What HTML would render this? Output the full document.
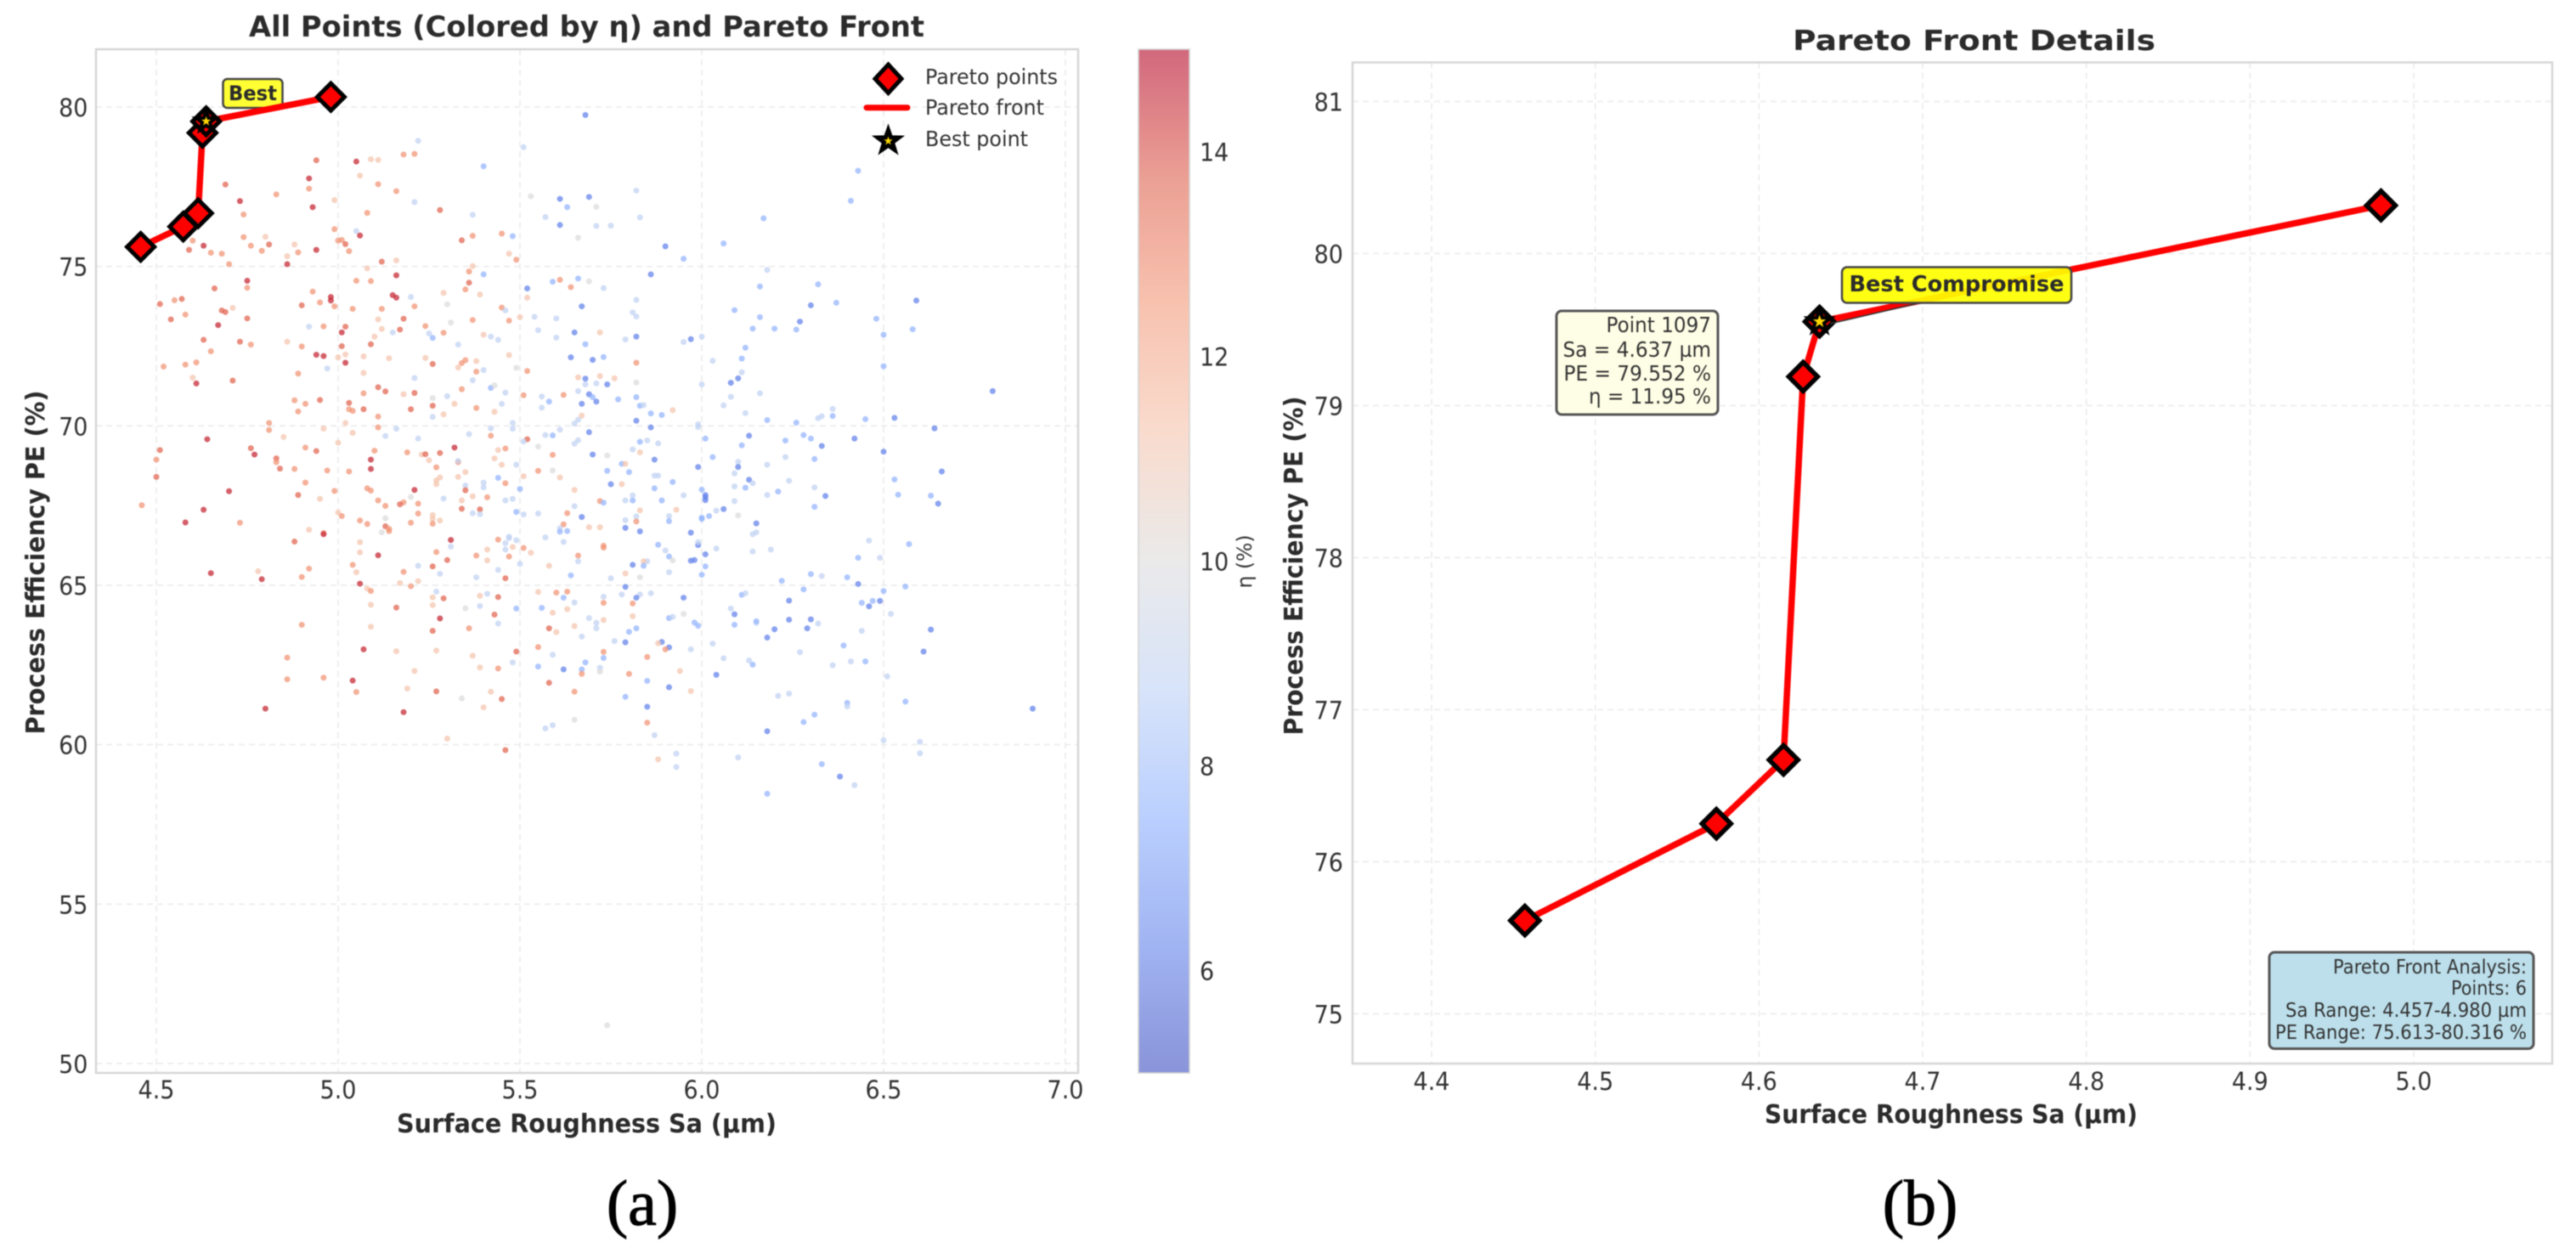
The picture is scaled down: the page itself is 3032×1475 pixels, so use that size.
<!DOCTYPE html>
<html lang="en">
<head>
<meta charset="utf-8">
<title>Pareto front analysis</title>
<style>
html,body{margin:0;padding:0;background:#fff;width:3032px;height:1475px;overflow:hidden}
svg{display:block;filter:blur(0.6px)}
text{font-family:"DejaVu Sans","Liberation Sans",sans-serif;fill:#333}
.bold{font-weight:bold;fill:#2b2b2b}
.cap{font-family:"Liberation Serif","DejaVu Serif",serif;fill:#000;stroke:#000;stroke-width:1}
</style>
</head>
<body>
<svg id="figure" xmlns="http://www.w3.org/2000/svg" width="3032" height="1475" viewBox="0 0 3032 1475">
  <defs><linearGradient id="cbGrad" x1="0" y1="1" x2="0" y2="0"></linearGradient></defs>
  <rect width="3032" height="1475" fill="#fff"/>
  <g id="layerGridA"></g>
  <g id="layerGridB"></g>
  <g id="layerPoints"></g>
  <rect x="262.5" y="93" width="70" height="34" rx="5" fill="#ffff33" stroke="#444" stroke-width="2.5"/>
  <text x="297.5" y="118" text-anchor="middle" font-size="24" class="bold" textLength="57" lengthAdjust="spacingAndGlyphs">Best</text>
  <g id="layerFrontA"></g>
  <g id="layerFrontB"></g>
  <rect x="113" y="58" width="1156" height="1205" fill="none" stroke="#d6d6d6" stroke-width="2.5"/>
  <rect x="1592" y="73.5" width="1412" height="1178.5" fill="none" stroke="#d6d6d6" stroke-width="2.5"/>
  <g id="layerTicks"></g>

  <text x="690.5" y="43" text-anchor="middle" font-size="34" class="bold" textLength="795" lengthAdjust="spacingAndGlyphs">All Points (Colored by η) and Pareto Front</text>
  <text x="690.5" y="1333" text-anchor="middle" font-size="30" class="bold" textLength="447" lengthAdjust="spacingAndGlyphs">Surface Roughness Sa (µm)</text>
  <text transform="translate(52,662) rotate(-90)" text-anchor="middle" font-size="30" class="bold" textLength="405" lengthAdjust="spacingAndGlyphs">Process Efficiency PE (%)</text>

  <g>
    <polygon points="1045.5,76 1061,92.7 1045.5,109.4 1030,92.7" fill="#f00" stroke="#000" stroke-width="5"/>
    <text x="1089" y="99" font-size="25" textLength="156" lengthAdjust="spacingAndGlyphs">Pareto points</text>
    <line x1="1020" y1="126.7" x2="1068" y2="126.7" stroke="#f00" stroke-width="7" stroke-linecap="round"/>
    <text x="1089" y="135" font-size="25" textLength="140" lengthAdjust="spacingAndGlyphs">Pareto front</text>
    <g id="legendStar"></g>
    <text x="1089" y="172" font-size="25" textLength="121" lengthAdjust="spacingAndGlyphs">Best point</text>
  </g>

  <rect x="1340" y="58" width="60" height="1205" fill="url(#cbGrad)" fill-opacity="0.6" stroke="#d2d2d2" stroke-width="1.5"/>
  <text transform="translate(1473,661) rotate(-90)" text-anchor="middle" font-size="24" textLength="63" lengthAdjust="spacingAndGlyphs">η (%)</text>

  <text x="2323.5" y="59" text-anchor="middle" font-size="33" class="bold" textLength="427" lengthAdjust="spacingAndGlyphs">Pareto Front Details</text>
  <text x="2296.5" y="1322" text-anchor="middle" font-size="30" class="bold" textLength="439" lengthAdjust="spacingAndGlyphs">Surface Roughness Sa (µm)</text>
  <text transform="translate(1533,666) rotate(-90)" text-anchor="middle" font-size="30" class="bold" textLength="399" lengthAdjust="spacingAndGlyphs">Process Efficiency PE (%)</text>

  <line x1="2262" y1="356" x2="2154" y2="381" stroke="#333" stroke-width="1.5"/>
  <rect x="2168" y="314.5" width="270" height="42" rx="6" fill="#ffff00" fill-opacity="0.92" stroke="#444" stroke-width="2.5"/>
  <text x="2303" y="343" text-anchor="middle" font-size="26" class="bold" textLength="253" lengthAdjust="spacingAndGlyphs">Best Compromise</text>

  <g>
    <rect x="1832" y="366" width="190" height="122" rx="6" fill="#fefee6" stroke="#555" stroke-width="3"/>
    <text x="2014" y="391" text-anchor="end" font-size="24.5" textLength="123.5" lengthAdjust="spacingAndGlyphs">Point 1097</text>
    <text x="2014" y="420" text-anchor="end" font-size="24.5" textLength="174.5" lengthAdjust="spacingAndGlyphs">Sa = 4.637 µm</text>
    <text x="2014" y="448" text-anchor="end" font-size="24.5" textLength="173.5" lengthAdjust="spacingAndGlyphs">PE = 79.552 %</text>
    <text x="2014" y="475" text-anchor="end" font-size="24.5" textLength="144" lengthAdjust="spacingAndGlyphs">η = 11.95 %</text>
  </g>

  <g>
    <rect x="2671" y="1121" width="311" height="113.5" rx="6" fill="#bcdfeb" stroke="#555" stroke-width="3"/>
    <text x="2974" y="1146" text-anchor="end" font-size="23.5" textLength="228" lengthAdjust="spacingAndGlyphs">Pareto Front Analysis:</text>
    <text x="2974" y="1171" text-anchor="end" font-size="23.5" textLength="89" lengthAdjust="spacingAndGlyphs">Points: 6</text>
    <text x="2974" y="1197" text-anchor="end" font-size="23.5" textLength="284" lengthAdjust="spacingAndGlyphs">Sa Range: 4.457-4.980 µm</text>
    <text x="2974" y="1223" text-anchor="end" font-size="23.5" textLength="296" lengthAdjust="spacingAndGlyphs">PE Range: 75.613-80.316 %</text>
  </g>

  <text x="756" y="1442" text-anchor="middle" font-size="76" class="cap">(a)</text>
  <text x="2260" y="1442" text-anchor="middle" font-size="76" class="cap">(b)</text>
</svg>
<script>
/* Pareto front */
const paretoSa=[4.457,4.574,4.615,4.627,4.637,4.980];
const paretoPe=[75.613,76.25,76.67,79.19,79.552,80.316];
const bestSa=[4.637];
const bestPe=[79.552];

/* Tick labels */
const scatterXTicks=["4.5","5.0","5.5","6.0","6.5","7.0"];
const scatterYTicks=["50","55","60","65","70","75","80"];
const colorbarTicks=["6","8","10","12","14"];
const detailXTicks=["4.4","4.5","4.6","4.7","4.8","4.9","5.0"];
const detailYTicks=["75","76","77","78","79","80","81"];

/* All points, upper-left region */
const saUpperLeft=[
5.68,5.22,5.51,5.40,4.94,5.05,5.09,5.11,5.18,5.21,
4.92,4.92,5.06,5.11,5.16,4.69,4.83,4.73,4.74,4.93,
4.99,5.08,5.28,5.21,5.37,5.53,5.61,5.69,5.63,5.82,
5.71,5.83,5.57,5.61,5.71,5.75,5.90,5.66,4.99,5.05,
5.06,5.34,5.37,5.45,5.48,4.74,4.80,4.60,4.63,4.59,
4.65,4.68,4.76,4.81,4.79,4.70,4.88,4.89,4.94,5.00,
5.01,5.02,5.03,4.86,4.86,5.12,5.16,5.08,5.47,5.49,
5.37,5.36,5.40,5.36,5.35,5.16,4.75,4.75,4.66,5.05,
5.09,5.29,5.39,5.52,5.59,5.61,5.66,5.69,5.64,5.73,
5.86,5.52,5.20,5.82,5.67,4.93,5.15,5.16,4.98,4.98,
4.95,4.90,4.99,5.04,5.12,5.21,5.30,5.45,5.46,4.51,
4.55,4.57,4.58,4.54,4.68,4.69,4.71,4.75,5.81,5.82,
5.60,5.54,5.50,5.47,5.37,5.18,5.11,5.31,5.24,4.67,
4.96,5.02,4.92,5.01,5.12,5.17,5.15,5.29,5.25,5.26,
5.40,5.42,5.44,5.55,5.60,5.65,5.72,5.79,5.82,5.10,
4.63,4.73,4.86,4.76,4.90,5.01,5.09,5.33,5.68,4.65,
4.94,4.96,5.02,5.00,5.07,5.24,5.47,5.14,5.64,5.70,
5.73,5.02,5.26,5.35,5.34,5.38,5.33,5.82,4.61,4.58,
4.52,4.97,5.49,5.38,5.40,5.52,4.89,5.07,4.60,4.61,
4.71,5.21,5.37,5.66,5.72,5.76,5.68,5.68,5.71,5.74,
5.82,5.11,5.13,5.42,5.43,5.34,5.46,5.07,5.18,5.21,
5.30,5.26,5.51,5.56,5.62,5.66,5.69,5.70,5.82,5.58,
5.71,5.77,4.88,4.91,4.95,5.03,5.32,5.26,5.45,5.67,
5.83,5.84,5.56,5.38,5.03,5.04,5.07,5.20,4.89,5.43,
5.92,5.86,5.89,5.11,5.29,5.26,5.67,5.66,5.82,4.81,
5.02,5.65,5.48];
const peUpperLeft=[
79.75,78.94,78.74,78.14,78.33,78.29,78.36,78.34,78.51,78.53,
77.76,77.44,77.85,77.58,77.36,77.57,77.26,77.05,76.63,76.86,
77.08,76.68,76.77,77.02,76.62,77.20,77.12,77.18,76.86,77.38,
76.87,76.54,76.55,76.30,76.27,76.28,75.63,75.90,76.17,76.11,
75.97,75.82,75.96,76.03,75.95,75.92,75.93,75.81,75.65,75.52,
75.43,75.40,75.65,75.69,75.49,75.07,75.69,75.44,75.52,75.81,
75.83,75.70,75.48,75.32,75.07,75.15,75.19,74.94,75.40,75.21,
75.01,74.84,74.75,74.49,74.28,74.72,74.55,74.33,74.31,74.55,
74.54,74.17,74.12,74.31,74.52,74.58,74.62,74.53,74.35,74.32,
74.75,74.02,74.04,73.95,73.75,74.21,74.10,74.02,74.04,73.93,
73.87,73.78,73.75,73.67,73.67,73.75,73.81,73.71,73.62,73.82,
73.94,73.98,73.49,73.34,73.62,73.57,73.70,73.37,73.56,73.43,
73.37,73.42,73.41,73.30,73.32,73.36,73.34,73.24,73.13,73.16,
73.12,73.11,73.11,72.93,73.04,73.02,72.93,72.92,72.90,72.76,
72.86,72.80,72.70,73.00,72.77,72.93,72.93,72.71,72.80,72.80,
72.70,72.64,72.64,72.55,72.49,72.50,72.56,72.55,72.56,72.34,
72.23,72.19,72.24,72.15,72.18,72.13,72.22,72.12,72.15,72.07,
72.16,71.98,71.94,72.06,71.97,72.03,71.83,71.98,71.99,71.92,
71.86,71.80,71.82,71.70,71.75,71.72,71.64,71.66,71.51,71.33,
71.42,71.50,71.43,71.52,71.56,71.49,71.48,71.30,71.33,71.30,
71.36,71.21,71.08,71.19,71.27,71.15,71.04,71.02,70.99,71.03,
70.93,70.87,70.96,70.92,70.97,71.09,70.99,70.90,70.90,70.76,
70.76,70.83,70.80,70.69,70.81,70.72,70.69,70.63,70.69,70.69,
70.63,70.65,70.57,70.56,70.52,70.47,70.52,70.52,70.45,70.44,
70.49,70.39,70.34,70.29,70.36,70.28,70.32,70.19,70.16,70.09,
70.09,70.07,70.09];
const etaUpperLeft=[
6.3,8.9,8.9,7.7,13.6,14.5,11.2,11.2,12.6,12.6,
14.5,12.6,11.2,12.6,12.6,13.6,12.6,14.5,12.6,14.5,
11.2,12.6,13.6,8.9,8.9,10,6.3,6.3,7.7,8.9,
10,8.9,8.9,6.3,8.9,8.9,6.3,10,12.6,8.9,
14.5,13.6,12.6,12.6,7.7,12.6,11.2,12.6,14.5,13.6,
12.6,12.6,12.6,13.6,12.6,12.6,11.2,12.6,14.5,12.6,
12.6,13.6,12.6,11.2,14.5,13.6,11.2,11.2,11.2,12.6,
11.2,12.6,7.7,13.6,12.6,14.5,14.5,12.6,13.6,12.6,
12.6,11.2,11.2,6.3,7.7,12.6,7.7,10,12.6,8.9,
6.3,11.2,8.9,8.9,6.3,12.6,14.5,14.5,14.5,14.5,
12.6,13.6,12.6,12.6,12.6,12.6,10,12.6,8.9,13.6,
12.6,13.6,12.6,13.6,13.6,13.6,11.2,13.6,8.9,8.9,
8.9,8.9,11.2,12.6,12.6,13.6,11.2,10,12.6,14.5,
12.6,13.6,8.9,14.5,11.2,13.6,8.9,12.6,8.9,7.7,
11.2,8.9,8.9,8.9,8.9,6.3,11.2,8.9,6.3,11.2,
13.6,13.6,11.2,12.6,12.6,13.6,13.6,8.9,7.7,12.6,
14.5,14.5,11.2,11.2,11.2,11.2,11.2,11.2,6.3,6.3,
7.7,14.5,13.6,12.6,12.6,11.2,11.2,12.6,12.6,12.6,
12.6,8.9,10,12.6,8.9,12.6,12.6,11.2,11.2,14.5,
13.6,8.9,8.9,11.2,11.2,11.2,6.3,8.9,8.9,6.3,
10,13.6,13.6,7.7,10,12.6,8.9,12.6,11.2,13.6,
8.9,10,12.6,8.9,12.6,8.9,6.3,7.7,7.7,7.7,
6.3,7.7,12.6,12.6,13.6,13.6,11.2,13.6,8.9,6.3,
7.7,8.9,8.9,12.6,12.6,12.6,13.6,13.6,12.6,11.2,
11.2,7.7,7.7,12.6,11.2,8.9,11.2,8.9,6.3,12.6,
11.2,8.9,8.9];

/* All points, upper-right region */
const saUpperRight=[
6.43,6.41,6.17,6.06,5.95,6.18,6.16,6.32,6.30,6.37,
6.59,6.09,6.16,6.27,6.14,6.20,6.26,6.48,6.50,6.58,
5.97,5.95,6.00,6.12,6.03,6.11,6.50,6.11,6.10,6.08,
6.00,6.80,6.16,6.08,6.06,6.12,6.18,6.26,6.32,6.33,
6.36,6.36,6.45,6.53,5.99];
const peUpperRight=[
78.00,77.06,76.51,75.72,75.24,74.89,74.37,74.44,73.78,73.86,
73.93,73.63,73.41,73.27,73.05,73.05,73.02,73.36,72.86,73.03,
72.72,72.63,72.80,72.45,72.04,72.11,71.87,71.68,71.49,71.35,
71.30,71.09,71.02,70.91,70.64,70.40,70.18,70.10,70.24,70.30,
70.31,70.53,70.21,70.25,70.05];
const etaUpperRight=[
7.7,7.7,7.7,7.7,7.7,8.9,7.7,7.7,6.3,7.7,
6.3,7.7,7.7,6.3,7.7,7.7,7.7,7.7,7.7,7.7,
6.3,8.9,8.9,7.7,8.9,7.7,7.7,8.9,6.3,6.3,
8.9,6.3,8.9,8.9,8.9,8.9,7.7,7.7,8.9,8.9,
7.7,8.9,7.7,6.3,8.9];

/* All points, lower-left region */
const saLowerLeft=[
4.81,4.85,4.96,5.04,5.11,5.16,5.13,5.22,5.42,5.36,
5.48,5.42,5.52,5.51,5.57,5.59,5.61,5.69,5.66,5.65,
5.86,5.83,5.85,5.88,4.64,5.00,4.51,4.50,4.50,4.76,
4.77,4.83,4.83,4.84,4.88,4.91,4.94,4.97,5.03,5.09,
5.09,5.10,5.19,5.23,5.24,5.28,5.32,5.25,5.27,5.33,
5.33,5.44,5.46,5.43,5.45,5.49,5.55,5.59,5.70,5.74,
5.83,5.81,5.78,5.79,5.87,5.74,5.80,5.55,5.59,5.61,
5.35,5.33,5.44,5.51,5.28,5.27,5.27,5.46,5.40,5.40,
5.35,5.50,5.75,5.78,5.87,5.88,5.92,5.87,4.91,5.08,
5.09,5.21,5.35,5.65,4.70,4.99,4.89,4.95,5.20,5.37,
5.41,5.29,5.34,5.46,5.48,5.79,5.81,5.81,5.89,5.72,
5.73,5.11,5.18,5.17,5.13,5.22,4.46,4.63,5.34,5.39,
5.65,5.83,5.93,5.00,5.01,5.22,5.37,5.39,5.49,5.51,
5.55,5.63,5.26,5.91,5.67,5.26,5.28,5.06,5.08,5.20,
5.26,5.79,5.82,5.82,5.91,4.58,4.73,5.13,5.62,5.61,
5.69,5.72,5.79,5.83,5.61,5.63,5.13,5.14,5.14,5.12,
4.92,4.96,4.96,5.57,5.47,5.47,5.49,5.62,5.44,4.88,
5.31,5.06,5.46,5.88,5.73,5.73,5.48,5.51,5.41,5.90,
5.46,5.31,5.06,5.27,5.53,5.11,5.38,5.47,5.66,5.91,
5.30,5.41,5.66,5.85,5.84,5.92,5.81,5.84,5.04,5.26,
5.22,5.58,5.50,4.92,5.44,4.78,4.65,5.05,5.18,5.28,
5.79,5.91,5.64,4.90,5.38,5.46,5.75,5.83,4.79,5.22,
5.17,5.06,5.20,5.08,5.09,5.27,5.41,5.39,5.55,5.60,
5.63,5.78,5.83,5.86,5.26,5.29,5.44,5.62,5.73,5.82,
5.65,5.73,5.81,5.79,5.09,5.26,5.39,5.16,5.35,5.49,
5.56,5.63,5.59,5.43,5.81,5.69,5.91,5.92,5.28,5.73,
5.71,5.44,4.90,5.09,5.36,5.26,5.58,5.65,5.71,5.82,
5.60,5.80,5.67,5.76,5.79,5.89,5.88,5.91,5.90,5.55,
5.07,5.16,5.27,5.49,5.73,5.59,5.37,4.86,5.73,5.85,
5.48,5.68,5.55,5.62,5.67,5.67,5.72,5.72,5.39,5.44,
5.21,5.80,5.94,4.86,4.96,5.04,5.58,5.85,5.91,5.05,
5.19,5.27,5.42,5.65,5.79,5.45,5.34,5.40,5.85,4.80,
5.18,5.65,5.85,5.59,5.57,5.87,5.30,5.46,5.93,5.88,
5.93,5.74];
const peLowerLeft=[
69.87,69.65,69.91,69.78,69.95,69.91,69.68,69.60,69.69,69.74,
69.91,69.92,69.58,69.51,69.71,69.70,69.88,69.80,69.55,69.44,
69.95,69.50,69.54,69.45,69.58,69.47,69.24,68.94,68.40,69.30,
69.10,68.98,68.86,68.66,68.65,69.32,69.21,68.60,68.57,68.94,
68.65,69.22,69.17,69.10,69.11,69.15,69.32,68.92,68.70,68.86,
68.90,69.24,69.29,68.98,68.78,68.78,69.35,69.09,69.10,69.07,
69.17,69.26,68.81,68.81,68.94,68.59,68.55,68.59,68.60,68.38,
68.55,68.40,68.37,68.42,68.38,68.29,68.17,68.20,68.22,68.07,
68.13,68.02,68.17,68.17,68.44,68.44,68.24,68.04,68.22,68.04,
67.97,67.99,67.98,67.99,67.95,67.96,67.83,67.71,67.77,67.79,
67.76,67.72,67.66,67.66,67.71,67.66,67.66,67.82,67.66,67.64,
67.59,67.66,67.60,67.54,67.49,67.56,67.51,67.37,67.40,67.38,
67.48,67.35,67.37,67.28,67.17,67.25,67.26,67.23,67.30,67.22,
67.25,67.26,67.20,67.17,67.14,67.08,67.03,67.03,66.92,66.96,
66.93,67.04,67.16,67.00,67.01,66.97,66.96,67.10,66.91,66.79,
66.82,66.82,66.80,66.69,66.68,66.70,66.85,66.77,66.70,66.66,
66.74,66.64,66.60,66.50,66.52,66.48,66.41,66.36,66.43,66.37,
66.42,66.35,66.32,66.27,66.24,66.18,66.20,66.17,66.12,66.09,
66.12,66.21,66.03,66.04,66.02,65.94,65.93,65.90,65.93,65.90,
65.79,65.78,65.75,65.75,65.75,65.78,65.64,65.61,65.64,65.59,
65.61,65.61,65.67,65.52,65.48,65.44,65.38,65.41,65.42,65.36,
65.37,65.41,65.31,65.26,65.25,65.22,65.22,65.25,65.19,65.13,
65.07,65.05,64.97,64.90,64.82,64.80,64.73,64.67,64.79,64.77,
64.80,64.71,64.71,64.75,64.62,64.59,64.63,64.61,64.64,64.61,
64.46,64.45,64.43,64.95,64.39,64.38,64.35,64.30,64.28,64.27,
64.29,64.25,64.14,64.08,64.03,63.97,63.97,64.01,63.96,63.91,
63.82,63.80,63.76,63.70,63.65,63.57,63.65,63.72,63.65,63.65,
63.53,63.54,63.39,63.25,63.21,63.22,63.18,63.05,62.99,63.06,
62.99,62.93,62.95,62.92,62.91,62.82,62.79,62.73,62.72,62.75,
62.58,62.58,62.45,62.36,62.36,62.22,62.41,62.29,62.42,62.39,
62.31,62.22,62.31,62.05,62.10,62.01,61.94,62.00,61.80,61.65,
61.76,61.67,61.66,61.66,61.50,61.43,61.45,61.17,61.19,61.13,
61.02,60.78,60.69,60.61,60.51,60.30,60.19,59.83,59.72,59.54,
59.30,51.20];
const etaLowerLeft=[
12.6,11.2,11.2,11.2,12.6,8.9,8.9,8.9,12.6,8.9,
8.9,8.9,13.6,8.9,8.9,7.7,8.9,6.3,8.9,8.9,
6.3,7.7,8.9,8.9,14.5,11.2,13.6,12.6,13.6,13.6,
14.5,13.6,12.6,13.6,12.6,12.6,13.6,12.6,12.6,14.5,
14.5,12.6,12.6,11.2,13.6,13.6,14.5,11.2,12.6,12.6,
8.9,11.2,12.6,11.2,11.2,8.9,10,12.6,6.3,10,
11.2,8.9,7.7,11.2,6.3,7.7,7.7,12.6,10,11.2,
11.2,11.2,7.7,11.2,11.2,11.2,11.2,12.6,8.9,8.9,
8.9,7.7,6.3,11.2,8.9,8.9,7.7,7.7,12.6,12.6,
12.6,14.5,13.6,11.2,14.5,12.6,13.6,11.2,10,11.2,
12.6,8.9,11.2,8.9,8.9,8.9,7.7,8.9,7.7,12.6,
7.7,12.6,12.6,13.6,12.6,12.6,12.6,14.5,13.6,13.6,
8.9,11.2,11.2,11.2,12.6,12.6,8.9,8.9,7.7,8.9,
8.9,12.6,11.2,8.9,6.3,11.2,11.2,12.6,12.6,12.6,
12.6,8.9,8.9,12.6,7.7,14.5,12.6,10,12.6,8.9,
11.2,11.2,6.3,6.3,7.7,7.7,13.6,12.6,12.6,10,
11.2,12.6,14.5,8.9,8.9,8.9,8.9,8.9,12.6,13.6,
14.5,11.2,8.9,7.7,12.6,12.6,11.2,12.6,11.2,8.9,
8.9,8.9,11.2,12.6,11.2,14.5,12.6,12.6,12.6,7.7,
13.6,11.2,8.9,8.9,11.2,10,6.3,7.7,12.6,13.6,
8.9,11.2,8.9,12.6,8.9,11.2,14.5,11.2,12.6,8.9,
11.2,8.9,7.7,12.6,8.9,13.6,8.9,10,14.5,11.2,
11.2,14.5,12.6,11.2,12.6,8.9,8.9,11.2,11.2,12.6,
12.6,8.9,8.9,8.9,11.2,13.6,13.6,7.7,8.9,6.3,
8.9,12.6,12.6,6.3,11.2,11.2,8.9,13.6,10,7.7,
7.7,11.2,11.2,13.6,11.2,8.9,7.7,8.9,14.5,11.2,
8.9,8.9,12.6,11.2,12.6,13.6,13.6,11.2,8.9,7.7,
11.2,7.7,8.9,8.9,6.3,6.3,11.2,6.3,12.6,12.6,
14.5,11.2,11.2,13.6,12.6,8.9,11.2,12.6,7.7,12.6,
8.9,7.7,7.7,6.3,7.7,12.6,8.9,10,11.2,12.6,
11.2,12.6,11.2,12.6,12.6,14.5,13.6,7.7,6.3,12.6,
11.2,13.6,11.2,12.6,7.7,13.6,10,11.2,6.3,14.5,
14.5,10,12.6,8.9,8.9,8.9,11.2,13.6,8.9,11.2,
8.9,10];

/* All points, lower-right region */
const saLowerRight=[
5.99,6.64,6.13,6.01,6.11,6.23,6.28,6.30,6.33,6.42,
6.50,6.03,6.23,6.31,6.18,6.10,5.99,6.10,6.09,6.66,
6.53,6.13,6.14,6.24,6.09,6.12,6.31,6.00,5.95,6.01,
6.01,6.01,6.18,6.21,6.34,6.54,6.63,6.65,6.09,6.31,
6.06,6.04,6.10,6.02,6.00,6.00,6.15,6.14,6.15,5.97,
6.46,6.57,5.99,5.99,6.04,6.19,6.14,6.01,6.43,6.49,
5.98,5.97,6.01,6.00,6.30,6.33,6.40,6.22,6.43,6.56,
6.28,6.50,5.95,6.11,6.12,6.24,6.44,6.47,6.46,6.49,
6.52,6.08,6.09,5.95,5.98,5.99,6.09,6.15,6.15,6.24,
6.30,6.32,6.29,6.20,6.18,6.63,6.44,6.03,6.39,6.61,
5.97,6.27,6.06,6.13,6.14,6.41,6.45,6.36,6.04,6.51,
5.97,6.21,6.24,6.40,6.40,6.56,6.91,6.31,6.28,6.18,
6.50,6.60,6.60,6.10,6.33,6.38,6.42,6.18];
const peLowerRight=[
69.96,69.92,69.69,69.60,69.39,69.54,69.71,69.60,69.37,69.60,
69.19,69.02,69.02,68.96,68.78,68.87,68.71,68.71,68.51,68.57,
68.32,68.31,68.20,68.28,68.10,68.06,68.07,68.00,67.82,67.83,
67.76,67.67,67.83,67.94,67.80,67.84,67.81,67.56,67.64,67.46,
67.39,67.34,67.19,67.17,67.12,67.08,66.94,66.60,66.66,66.65,
66.40,66.29,66.26,66.35,66.15,66.12,66.06,65.97,65.86,65.86,
65.79,65.77,65.59,65.33,65.35,65.29,65.25,65.14,65.04,64.96,
64.87,64.82,64.61,64.70,64.75,64.52,64.45,64.51,64.34,64.51,
64.10,64.27,64.09,64.10,63.83,63.73,63.76,63.82,63.87,63.92,
63.93,63.80,63.65,63.62,63.36,63.61,63.57,63.17,63.11,62.92,
62.99,62.90,62.71,62.64,62.51,62.61,62.61,62.49,62.19,62.14,
61.68,61.53,61.60,61.31,61.20,61.35,61.13,60.94,60.71,60.42,
60.14,60.09,59.73,59.60,59.39,59.00,58.73,58.46];
const etaLowerRight=[
8.9,6.3,6.3,7.7,7.7,7.7,7.7,7.7,6.3,6.3,
6.3,7.7,8.9,7.7,8.9,8.9,6.3,6.3,8.9,6.3,
7.7,6.3,8.9,8.9,8.9,7.7,8.9,7.7,8.9,6.3,
6.3,6.3,8.9,7.7,6.3,7.7,7.7,6.3,8.9,7.7,
6.3,8.9,10,7.7,7.7,7.7,6.3,8.9,8.9,6.3,
8.9,7.7,6.3,8.9,8.9,8.9,8.9,6.3,7.7,8.9,
6.3,6.3,7.7,7.7,7.7,8.9,7.7,7.7,6.3,7.7,
7.7,7.7,6.3,7.7,8.9,6.3,7.7,7.7,6.3,6.3,
8.9,8.9,6.3,10,7.7,7.7,7.7,8.9,7.7,6.3,
6.3,8.9,6.3,6.3,6.3,6.3,8.9,8.9,7.7,6.3,
8.9,8.9,8.9,8.9,7.7,8.9,7.7,8.9,6.3,8.9,
11.2,8.9,8.9,7.7,8.9,7.7,6.3,7.7,7.7,6.3,
8.9,8.9,8.9,8.9,7.7,6.3,8.9,7.7];

/* Coolwarm colormap anchors */
const coolwarmStops=[[59,76,192],[98,130,234],[141,176,254],[190,210,246],[221,220,220],[245,196,173],[244,154,123],[222,96,77],[180,4,38]];

const SVGNS="http://www.w3.org/2000/svg";
const etaMin=5, etaMax=15;
function scatterX(v){return 184+(v-4.5)*428;}
function scatterY(v){return 126+(80-v)*37.53;}
function detailX(v){return 1685+(v-4.4)*1926.7;}
function detailY(v){return 119.4+(81-v)*179;}
function colorbarY(v){return 1263-(v-etaMin)*120.5;}

function colormap(t){
  const c=Math.max(0,Math.min(1,t))*(coolwarmStops.length-1);
  const i=Math.min(coolwarmStops.length-2,Math.floor(c));
  const f=c-i, a=coolwarmStops[i], b=coolwarmStops[i+1];
  return "rgb("+Math.round(a[0]+(b[0]-a[0])*f)+","+Math.round(a[1]+(b[1]-a[1])*f)+","+Math.round(a[2]+(b[2]-a[2])*f)+")";
}
function make(tag,attrs,parent){
  const el=document.createElementNS(SVGNS,tag);
  for(const k in attrs){el.setAttribute(k,attrs[k]);}
  parent.appendChild(el);
  return el;
}
function layer(id){return document.getElementById(id);}

/* Colorbar gradient */
const cbGrad=document.getElementById("cbGrad");
coolwarmStops.forEach(function(stop,i){
  make("stop",{offset:(i/(coolwarmStops.length-1)),"stop-color":"rgb("+stop.join(",")+")"},cbGrad);
});

/* Grid lines */
function vGrid(group,xf,ticks,y0,y1){
  ticks.forEach(function(t){
    const x=xf(parseFloat(t));
    const el=make("line",{x1:x,x2:x,y1:y0,y2:y1,stroke:"#ebebeb","stroke-width":1.6,"stroke-dasharray":"7 5"},group);
    
    
  });
}
function hGrid(group,yf,ticks,x0,x1){
  ticks.forEach(function(t){
    const y=yf(parseFloat(t));
    const el=make("line",{x1:x0,x2:x1,y1:y,y2:y,stroke:"#ebebeb","stroke-width":1.6,"stroke-dasharray":"7 5"},group);
    
    
  });
}
vGrid(layer("layerGridA"),scatterX,scatterXTicks,58,1263);
hGrid(layer("layerGridA"),scatterY,scatterYTicks,113,1269);
vGrid(layer("layerGridB"),detailX,detailXTicks,73.5,1252);
hGrid(layer("layerGridB"),detailY,detailYTicks,1592,3004);

/* Scatter points */
const pointGroups=[
  [saUpperLeft,peUpperLeft,etaUpperLeft],
  [saUpperRight,peUpperRight,etaUpperRight],
  [saLowerLeft,peLowerLeft,etaLowerLeft],
  [saLowerRight,peLowerRight,etaLowerRight]
];
pointGroups.forEach(function(g){
  const n=Math.min(g[0].length,g[1].length,g[2].length);
  for(let i=0;i<n;i++){
    const dot=make("circle",{cx:scatterX(g[0][i]),cy:scatterY(g[1][i]),r:3.5,fill:colormap((g[2][i]-etaMin)/(etaMax-etaMin)),"fill-opacity":0.75},layer("layerPoints"));
    
    
  }
});

/* Pareto front */
function diamondPoints(cx,cy,h){
  return [cx+","+(cy-h),(cx+h)+","+cy,cx+","+(cy+h),(cx-h)+","+cy].join(" ");
}
function starPoints(cx,cy,r){
  const pts=[];
  for(let i=0;i<10;i++){
    const rad=i%2===0?r:r*0.4;
    const a=-Math.PI/2+i*Math.PI/5;
    pts.push((cx+rad*Math.cos(a))+","+(cy+rad*Math.sin(a)));
  }
  return pts.join(" ");
}
function drawFront(group,xf,yf,half,sw,lw,starR){
  const pts=paretoSa.map(function(v,i){return xf(v)+","+yf(paretoPe[i]);}).join(" ");
  const line=make("polyline",{points:pts,fill:"none",stroke:"#f00","stroke-width":lw,"stroke-linejoin":"round"},group);
  
  
  paretoSa.forEach(function(v,i){
    const d=make("polygon",{points:diamondPoints(xf(v),yf(paretoPe[i]),half),fill:"#f00",stroke:"#000","stroke-width":sw},group);
    
    
  });
  const s=make("polygon",{points:starPoints(xf(bestSa[0]),yf(bestPe[0]),starR),fill:"#ffd700",stroke:"#000","stroke-width":4},group);
  
  
}
drawFront(layer("layerFrontA"),scatterX,scatterY,16,5,7.5,12);
drawFront(layer("layerFrontB"),detailX,detailY,17,5.5,7.5,14);

const legendStar=make("polygon",{points:starPoints(1045.5,166,13),fill:"#ffd700",stroke:"#000","stroke-width":5},layer("legendStar"));



/* Tick labels */
function tickLabel(txt,x,y,anchor,name){
  const w=[...txt].reduce(function(s,ch){return s+(ch==="."?0.318:0.636);},0)*27;
  const el=make("text",{x:x,y:y,"text-anchor":anchor,"font-size":29.5,textLength:w,lengthAdjust:"spacingAndGlyphs"},layer("layerTicks"));
  el.textContent=txt;
  
  
}
scatterXTicks.forEach(function(t){tickLabel(t,scatterX(parseFloat(t)),1293,"middle","scatter-x-tick-label");});
scatterYTicks.forEach(function(t){tickLabel(t,103.5,scatterY(parseFloat(t))+11,"end","scatter-y-tick-label");});
colorbarTicks.forEach(function(t){tickLabel(t,1412,colorbarY(parseFloat(t))+11,"start","colorbar-tick-label");});
detailXTicks.forEach(function(t){tickLabel(t,detailX(parseFloat(t)),1283,"middle","detail-x-tick-label");});
detailYTicks.forEach(function(t){tickLabel(t,1581,detailY(parseFloat(t))+11,"end","detail-y-tick-label");});
</script>
</body>
</html>
